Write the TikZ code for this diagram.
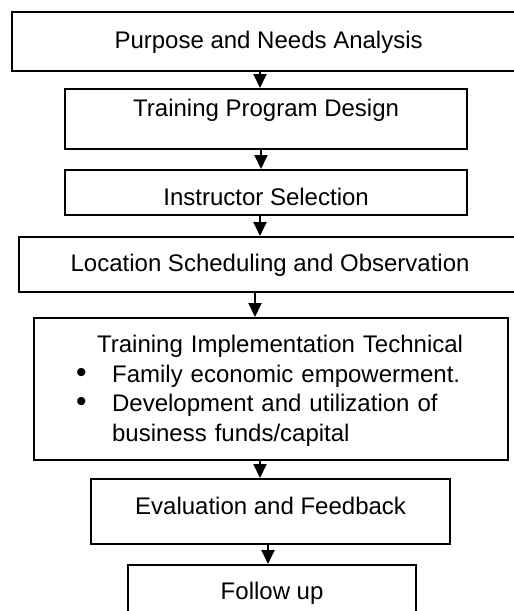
\documentclass[tikz,border=0pt]{standalone}
\usepackage{fontspec}
\setmainfont{Liberation Sans}
\usetikzlibrary{arrows.meta}

\tikzset{
  stage/.style={draw, line width=1.1pt, inner sep=0pt, anchor=north west,
    font=\fontsize{12pt}{14pt}\selectfont},
  arr/.style={line width=1pt, -{Triangle[width=6.5pt,length=7pt]}}
}
\newcommand{\bulletmark}{\makebox[19pt][l]{\hspace{1pt}{\fontsize{15pt}{14.75pt}\selectfont\textbullet}}}

\begin{document}
\begin{tikzpicture}[x=0.5pt,y=-0.5pt]
\useasboundingbox (0,0) rectangle (514,611);
\clip (0,0) rectangle (514,611);

% stages
\node[stage, minimum width=256.5pt, text height=18pt, text depth=11.5pt]
  (b1) at (11,11) {Purpose and Needs Analysis};
\node[stage, minimum width=201pt, text height=13.5pt, text depth=16.5pt]
  (b2) at (64,88) {Training Program Design};
\node[stage, minimum width=201pt, text height=17.5pt, text depth=5pt]
  (b3) at (64,169) {Instructor Selection};
\node[stage, minimum width=251pt, text height=17.35pt, text depth=10.15pt]
  (b4) at (18,236) {Location Scheduling and Observation};
% implementation box with bullet list
\node[stage, inner xsep=20pt, text width=197pt, align=left,
  font=\fontsize{12pt}{14.75pt}\selectfont,
  text height=17.35pt, text depth=53.65pt]
  (b5) at (33,317) {\hspace*{11.5pt}Training Implementation Technical\\
  \bulletmark Family economic empowerment.\\
  \bulletmark Development and utilization of\\
  \hspace*{19pt}business funds/capital};
\node[stage, minimum width=179.5pt, text height=17.65pt, text depth=14.85pt]
  (b6) at (90,478) {Evaluation and Feedback};
\node[stage, minimum width=144pt, text height=17.15pt, text depth=15.85pt]
  (b7) at (127,564) {Follow up};

% arrows between stages
\foreach \a/\b/\x in {b1/b2/260, b2/b3/261, b3/b4/260,
    b4/b5/255, b5/b6/260, b6/b7/268}
\draw[arr] (\a.south -| \x,0) -- (\b.north -| \x,0);
\end{tikzpicture}
\end{document}
